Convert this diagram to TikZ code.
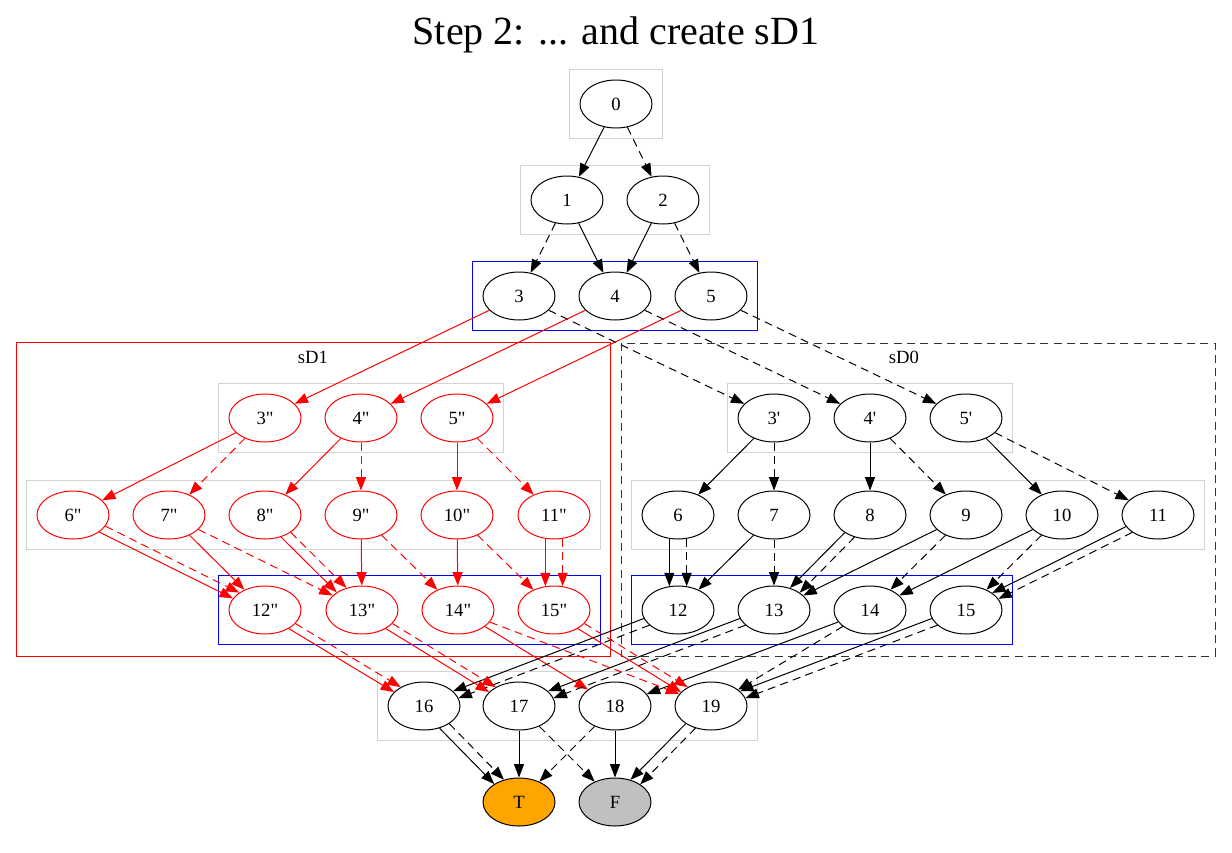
\documentclass[tikz,border=0pt]{standalone}
\usepackage{fontspec}
\setmainfont{Liberation Serif}
\usetikzlibrary{shapes.geometric,arrows.meta,fit,backgrounds,calc}
\definecolor{termtrue}{HTML}{FFA500}
\definecolor{termfalse}{HTML}{C0C0C0}
\definecolor{rowgrey}{HTML}{D3D3D3}

\begin{document}
\begin{tikzpicture}[
    x=0.75pt, y=-0.75pt,
    font=\fontsize{14}{16}\selectfont,
    line width=0.75pt,
    bddnode/.style={draw, ellipse, minimum width=54pt, minimum height=36pt, inner sep=0pt},
    copynode/.style={bddnode, draw=red},
    hi/.style={-{Triangle[length=10pt, width=7.5pt]}},
    lo/.style={hi, dash pattern=on 6pt off 4pt},
    rowbox/.style={draw=rowgrey, inner sep=7.5pt},
    levelbox/.style={draw=blue, inner sep=7.5pt}
]
\useasboundingbox (0,0) rectangle (1232,853);
\node (title) at (616,35) {\fontsize{30}{36}\selectfont Step 2: ... and create sD1};

% original top of the diagram
\node[bddnode] (n0) at (616,104) {0};
\node[bddnode] (n1) at (567,200) {1};
\node[bddnode] (n2) at (663,200) {2};
\foreach \i/\x in {3/519, 4/615, 5/711}
  \node[bddnode] (n\i) at (\x,296) {\i};

% sD0 (primed copy and the shared levels)
\foreach \i/\x in {3/774, 4/870, 5/966}
  \node[bddnode] (n\i p) at (\x,418) {\i\textquotesingle};
\foreach \i/\x in {6/678, 7/774, 8/870, 9/966, 10/1062, 11/1158}
  \node[bddnode] (n\i) at (\x,515) {\i};
\foreach \i/\x in {12/678, 13/774, 14/870, 15/966}
  \node[bddnode] (n\i) at (\x,610) {\i};

% sD1 (new copy)
\foreach \i/\x in {3/265, 4/361, 5/457}
  \node[copynode] (n\i pp) at (\x,418) {\i\textquotedbl};
\foreach \i/\x in {6/73, 7/169, 8/265, 9/361, 10/457, 11/554}
  \node[copynode] (n\i pp) at (\x,515) {\i\textquotedbl};
\foreach \i/\x in {12/265, 13/362, 14/458, 15/554}
  \node[copynode] (n\i pp) at (\x,610) {\i\textquotedbl};

% bottom levels and terminals
\foreach \i/\x in {16/424, 17/519, 18/615, 19/711}
  \node[bddnode] (n\i) at (\x,706) {\i};
\node[bddnode, fill=termtrue] (nT) at (519,802) {T};
\node[bddnode, fill=termfalse] (nF) at (615,802) {F};

% clusters
\begin{scope}[on background layer]
  \node[rowbox, fit=(n0)] (c0) {};
  \node[rowbox, fit=(n1)(n2)] (c1) {};
  \node[levelbox, fit=(n3)(n5)] (c3) {};
  \node[rowbox, fit=(n3pp)(n5pp)] (c3pp) {};
  \node[rowbox, fit=(n6pp)(n11pp)] (c6pp) {};
  \node[levelbox, fit=(n12pp)(n15pp)] (c12pp) {};
  \node[rowbox, fit=(n3p)(n5p)] (c3p) {};
  \node[rowbox, fit=(n6)(n11)] (c6) {};
  \node[levelbox, fit=(n12)(n15)] (c12) {};
  \node[rowbox, fit=(n16)(n19)] (c16) {};
  \draw[red] (16,342) rectangle (610,656);
  \node (sD1) at (313,357) {sD1};
  \draw[dash pattern=on 6pt off 4pt, black!80] (621,343) rectangle (1215,656);
  \node (sD0) at (904,357) {sD0};
\end{scope}

% edges above the split
\draw[hi] (n0) -- (n1);
\draw[lo] (n0) -- (n2);
\draw[lo] (n1) -- (n3);
\draw[hi] (n1) -- (n4);
\draw[hi] (n2) -- (n4);
\draw[lo] (n2) -- (n5);
\foreach \i in {3,4,5} {
  \draw[hi, red] (n\i) -- (n\i pp);
  \draw[lo] (n\i) -- (n\i p);
}

% sD0 edges
\foreach \a/\b in {3p/6, 4p/8, 5p/10, 7/12, 9/13, 10/14, 14/18}
  \draw[hi] (n\a) -- (n\b);
\foreach \a/\b in {3p/7, 4p/9, 5p/11, 7/13, 9/14, 10/15, 14/19}
  \draw[lo] (n\a) -- (n\b);

% sD1 edges
\begin{scope}[red]
\foreach \a/\b in {3pp/6pp, 4pp/8pp, 5pp/10pp, 7pp/12pp, 9pp/13pp, 10pp/14pp, 14pp/18}
  \draw[hi] (n\a) -- (n\b);
\foreach \a/\b in {3pp/7pp, 4pp/9pp, 5pp/11pp, 7pp/13pp, 9pp/14pp, 10pp/15pp, 14pp/19}
  \draw[lo] (n\a) -- (n\b);
\end{scope}

% parallel solid/dashed pairs (last value: spread angle at the borders)
\foreach \a/\b/\d/\c in {6/12/20/black, 8/13/10/black, 11/15/7/black,
    12/16/7/black, 13/17/7/black, 15/19/7/black, 16/T/10/black, 19/F/10/black,
    6pp/12pp/7/red, 8pp/13pp/10/red, 11pp/15pp/20/red,
    12pp/16/7/red, 13pp/17/7/red, 15pp/19/7/red} {
  \draw[hi, \c] let \p1=($(n\b)-(n\a)$), \n1={atan2(\y1,\x1)},
      \n2={\n1-\d}, \n3={\n1+180+\d} in (n\a.\n2) -- (n\b.\n3);
  \draw[lo, \c] let \p1=($(n\b)-(n\a)$), \n1={atan2(\y1,\x1)},
      \n2={\n1+\d}, \n3={\n1+180-\d} in (n\a.\n2) -- (n\b.\n3);
}

% terminals
\draw[hi] (n17) -- (nT);
\draw[lo] (n17) -- (nF);
\draw[hi] (n18) -- (nF);
\draw[lo] (n18) -- (nT);
\end{tikzpicture}
\end{document}
